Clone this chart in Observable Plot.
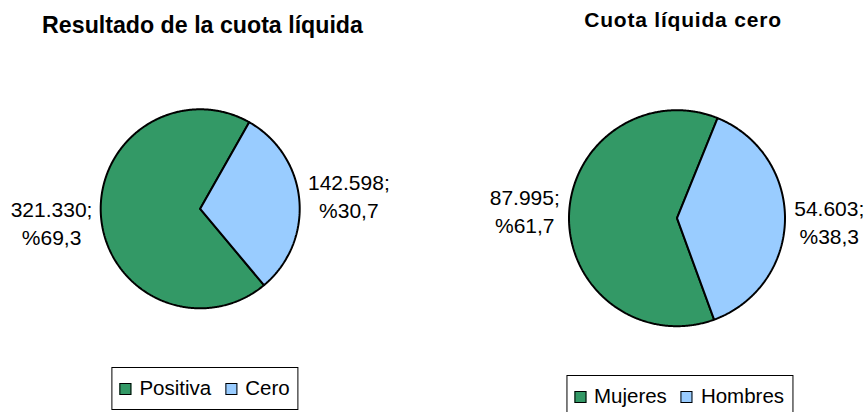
<!DOCTYPE html>
<html><head><meta charset="utf-8">
<script src="https://cdn.jsdelivr.net/npm/d3@7"></script>
<script src="https://cdn.jsdelivr.net/npm/@observablehq/plot@0.6"></script>
<style>
html,body{margin:0;padding:0;background:#fff;width:866px;height:412px;overflow:hidden;font-family:"Liberation Sans",Arial,sans-serif;}
#root{position:relative;width:866px;height:412px;overflow:hidden;}
.title{position:absolute;font-weight:bold;color:#000;white-space:nowrap;line-height:1;transform:translateX(-50%);}
.legend{position:absolute;display:flex;align-items:center;border:1px solid #000;background:#fff;font-size:20.5px;line-height:1;transform:translateX(-50%);box-sizing:border-box;white-space:nowrap;padding:0 8px 0 7px;color:#000;}
.sw{display:inline-block;width:12px;height:12px;border:1px solid #000;box-sizing:border-box;margin-right:8px;}
.item{display:flex;align-items:center;margin-right:14px;}
.item:last-child{margin-right:0;}
.plot{position:absolute;}
</style></head><body><div id="root"></div><script>
// ---- data ----
const chart1Title = "Resultado de la cuota líquida";
const chart1Categories = ["Positiva", "Cero"];
const chart1Values = [321330, 142598];

const chart2Title = "Cuota líquida cero";
const chart2Categories = ["Mujeres", "Hombres"];
const chart2Values = [87995, 54603];

const sliceColors = ["#339966", "#99CCFF"];

// ---- layout (pixels / styling only) ----
const layouts = [
  {title: chart1Title, cats: chart1Categories, vals: chart1Values,
   titleX: 202.5, titleTop: 13.7, titleSize: 23.2, titleSpacing: 0,
   svgLeft: 0, svgTop: 60, W: 433, H: 300, cx: 199.7, cy: 148.3, r: 99.5,
   firstAngle: 140.15, labelR: 1.5, labelNudge: [0, 0],
   legendX: 205, legendTop: 367, legendH: 43},
  {title: chart2Title, cats: chart2Categories, vals: chart2Values,
   titleX: 683, titleTop: 8.9, titleSize: 21, titleSpacing: 0.8,
   svgLeft: 433, svgTop: 60, W: 433, H: 300, cx: 243.5, cy: 157.7, r: 108,
   firstAngle: 159.9, labelR: 1.41, labelNudge: [0.05, 0],
   legendX: 679.5, legendTop: 375, legendH: 43}
];

const esLocale = d3.formatLocale({decimal: ",", thousands: ".", grouping: [3], currency: ["", ""]});
const fmtInt = esLocale.format(",d");
const fmtPct = esLocale.format(".1f");
const FONT = '"Liberation Sans", Arial, sans-serif';
const root = document.getElementById("root");

for (const L of layouts) {
  const total = d3.sum(L.vals);
  const rad = Math.PI / 180;
  const pie = d3.pie().sort(null).value(d => d.value)
    .startAngle(L.firstAngle * rad).endAngle(L.firstAngle * rad + 2 * Math.PI);
  const arcs = pie(L.cats.map((c, i) => ({cat: c, value: L.vals[i], i})));

  // slice outlines built from the pie angles
  const pts = [];
  for (const a of arcs) {
    const c = a.data.cat;
    pts.push({cat: c, x: 0, y: 0});
    const n = Math.max(2, Math.ceil((a.endAngle - a.startAngle) / (0.5 * rad)));
    for (let k = 0; k <= n; k++) {
      const t = a.startAngle + (a.endAngle - a.startAngle) * k / n;
      pts.push({cat: c, x: Math.sin(t), y: Math.cos(t)});
    }
    pts.push({cat: c, x: 0, y: 0});
  }

  const labels = arcs.map(a => {
    const mid = (a.startAngle + a.endAngle) / 2;
    return {
      x: L.labelR * Math.sin(mid),
      y: L.labelR * Math.cos(mid) + L.labelNudge[a.data.i],
      text: fmtInt(a.data.value) + ";\n%" + fmtPct(a.data.value / total * 100)
    };
  });

  const plot = Plot.plot({
    width: L.W, height: L.H, margin: 0,
    x: {domain: [-L.cx / L.r, (L.W - L.cx) / L.r], axis: null},
    y: {domain: [-(L.H - L.cy) / L.r, L.cy / L.r], axis: null},
    color: {domain: L.cats, range: sliceColors},
    style: {fontFamily: FONT, overflow: "visible", background: "transparent"},
    marks: [
      Plot.line(pts, {x: "x", y: "y", z: "cat", fill: "cat", stroke: "#000",
        strokeWidth: 2, strokeLinejoin: "miter", curve: "linear"}),
      Plot.text(labels, {x: "x", y: "y", text: "text", fontSize: 21, lineHeight: 1.33,
        textAnchor: "middle", lineAnchor: "middle", fill: "#000", fontFamily: FONT})
    ]
  });
  plot.classList.add("plot");
  plot.style.left = L.svgLeft + "px";
  plot.style.top = L.svgTop + "px";
  root.appendChild(plot);

  const t = document.createElement("div");
  t.className = "title";
  t.textContent = L.title;
  t.style.left = L.titleX + "px";
  t.style.top = L.titleTop + "px";
  t.style.fontSize = L.titleSize + "px";
  t.style.letterSpacing = L.titleSpacing + "px";
  root.appendChild(t);

  const lg = document.createElement("div");
  lg.className = "legend";
  lg.style.left = L.legendX + "px";
  lg.style.top = L.legendTop + "px";
  lg.style.height = L.legendH + "px";
  L.cats.forEach((c, i) => {
    const it = document.createElement("span");
    it.className = "item";
    const sw = document.createElement("span");
    sw.className = "sw";
    sw.style.background = sliceColors[i];
    const tx = document.createElement("span");
    tx.textContent = c;
    it.appendChild(sw); it.appendChild(tx);
    lg.appendChild(it);
  });
  root.appendChild(lg);
}
</script></body></html>
